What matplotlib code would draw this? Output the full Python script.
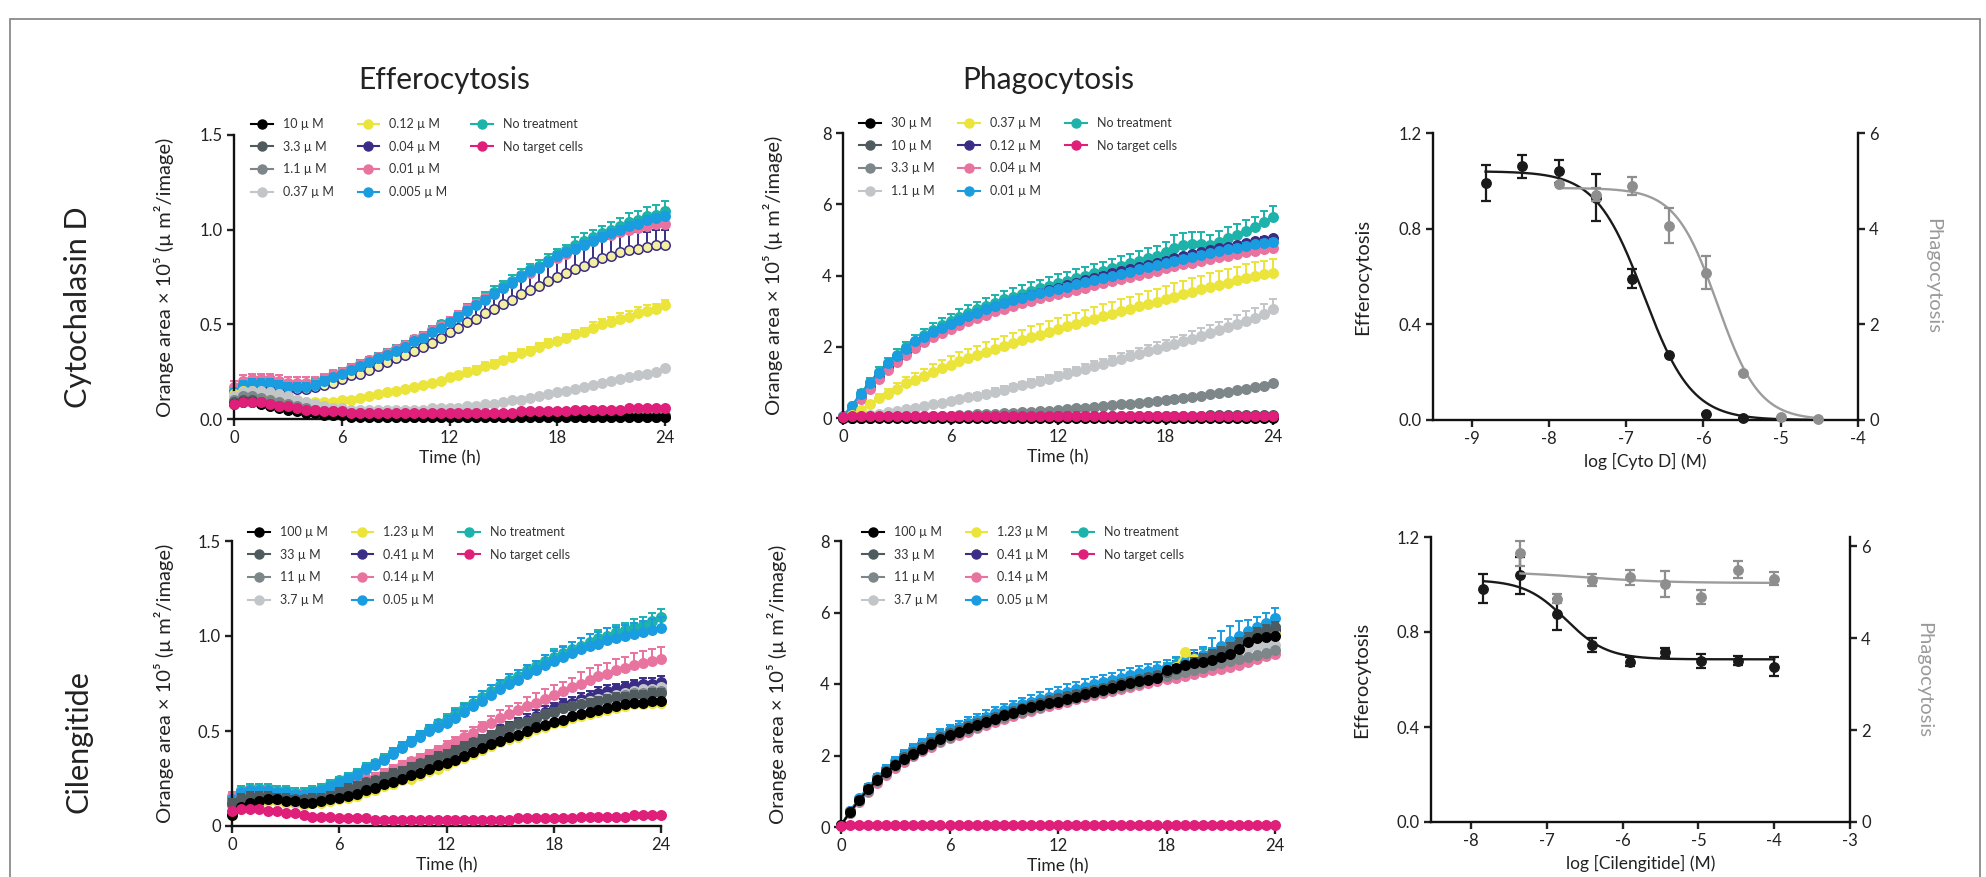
import numpy as np
import matplotlib.pyplot as plt
from matplotlib.lines import Line2D
from matplotlib.patches import Rectangle

plt.rcParams['font.family'] = ['Lato', 'DejaVu Sans']
plt.rcParams['axes.unicode_minus'] = False

W, H = 1986, 877
hours = np.arange(0, 24.5, 0.5)   # imaging every 30 min

# series colours, in legend order
series_colors = ['#000000', '#4f5b5f', '#7d8689', '#c3c6c8', '#ebe43a',
                 '#3a2d86', '#e8739f', '#1a9ce0', '#1db3ab', '#df1f79']
PALE = '#f3efa0'

# ---------------- Efferocytosis, Cytochalasin D ----------------
effcd_labels = ['10 µ M', '3.3 µ M', '1.1 µ M', '0.37 µ M', '0.12 µ M',
                '0.04 µ M', '0.01 µ M', '0.005 µ M', 'No treatment', 'No target cells']
effcd_10 = [0.08,0.09,0.09,0.08,0.07,0.06,0.05,0.04,0.03,0.03,0.02,0.02,
            0.02,0.01,0.01,0.01,0.01,0.01,0.01,0.01,0.01,0.01,0.01,0.01,
            0.01,0.01,0.01,0.01,0.01,0.01,0.01,0.01,0.01,0.01,0.01,0.01,
            0.01,0.01,0.01,0.01,0.01,0.01,0.01,0.01,0.01,0.01,0.01,0.01,
            0.01]
effcd_3p3 = [0.09,0.10,0.10,0.09,0.08,0.07,0.06,0.05,0.04,0.03,0.03,0.02,
             0.02,0.02,0.02,0.01,0.01,0.01,0.01,0.01,0.01,0.01,0.01,0.01,
             0.01,0.01,0.01,0.01,0.01,0.01,0.01,0.01,0.01,0.01,0.01,0.01,
             0.01,0.01,0.01,0.01,0.01,0.01,0.01,0.01,0.01,0.01,0.01,0.01,
             0.01]
effcd_1p1 = [0.10,0.12,0.12,0.11,0.10,0.09,0.08,0.07,0.06,0.05,0.04,0.04,
             0.03,0.03,0.03,0.03,0.02,0.02,0.02,0.02,0.02,0.02,0.02,0.02,
             0.02,0.02,0.02,0.02,0.02,0.02,0.02,0.02,0.02,0.02,0.02,0.02,
             0.02,0.02,0.02,0.02,0.02,0.02,0.02,0.02,0.02,0.02,0.02,0.02,
             0.02]
effcd_0p37 = [0.12,0.14,0.15,0.15,0.14,0.13,0.12,0.10,0.09,0.08,0.07,0.06,
              0.06,0.05,0.05,0.05,0.05,0.05,0.05,0.05,0.05,0.05,0.06,0.06,
              0.06,0.06,0.07,0.07,0.08,0.08,0.09,0.10,0.10,0.11,0.12,0.13,
              0.14,0.15,0.16,0.17,0.18,0.19,0.20,0.21,0.22,0.23,0.24,0.25,
              0.27]
effcd_0p12 = [0.13,0.15,0.15,0.14,0.13,0.12,0.11,0.10,0.09,0.09,0.09,0.09,
              0.10,0.10,0.11,0.12,0.13,0.14,0.15,0.16,0.17,0.18,0.19,0.20,
              0.22,0.23,0.25,0.26,0.28,0.29,0.31,0.33,0.35,0.36,0.38,0.40,
              0.41,0.43,0.45,0.46,0.48,0.50,0.51,0.53,0.54,0.56,0.57,0.58,
              0.60]
effcd_0p04 = [0.14,0.17,0.18,0.18,0.18,0.17,0.16,0.16,0.16,0.17,0.18,0.19,
              0.21,0.23,0.24,0.26,0.28,0.30,0.32,0.34,0.36,0.38,0.40,0.43,
              0.46,0.48,0.51,0.53,0.56,0.58,0.61,0.63,0.66,0.68,0.70,0.73,
              0.75,0.77,0.79,0.81,0.83,0.85,0.86,0.88,0.89,0.90,0.91,0.92,
              0.92]
effcd_0p01 = [0.17,0.20,0.21,0.21,0.21,0.20,0.19,0.19,0.19,0.19,0.21,0.23,
              0.25,0.27,0.29,0.31,0.33,0.35,0.37,0.39,0.42,0.44,0.47,0.49,
              0.52,0.55,0.58,0.61,0.64,0.66,0.69,0.72,0.75,0.77,0.80,0.83,
              0.85,0.87,0.90,0.92,0.94,0.96,0.97,0.99,1.00,1.01,1.02,1.03,
              1.03]
effcd_0p005 = [0.14,0.18,0.19,0.19,0.19,0.18,0.17,0.17,0.17,0.18,0.20,0.22,
               0.24,0.26,0.28,0.30,0.32,0.34,0.36,0.38,0.41,0.43,0.46,0.48,
               0.51,0.54,0.57,0.60,0.63,0.66,0.69,0.72,0.75,0.78,0.80,0.83,
               0.86,0.88,0.90,0.92,0.94,0.96,0.98,1.00,1.02,1.03,1.05,1.06,
               1.07]
effcd_notreat = [0.15,0.19,0.20,0.20,0.20,0.19,0.18,0.18,0.18,0.19,0.21,0.23,
                 0.25,0.27,0.29,0.31,0.33,0.35,0.37,0.39,0.42,0.44,0.47,0.50,
                 0.52,0.55,0.58,0.61,0.64,0.67,0.70,0.73,0.76,0.79,0.81,0.84,
                 0.87,0.89,0.92,0.94,0.96,0.98,1.00,1.02,1.04,1.05,1.07,1.08,
                 1.10]
effcd_notarget = [0.08,0.09,0.09,0.09,0.08,0.07,0.07,0.06,0.05,0.05,0.04,0.04,
                  0.04,0.03,0.03,0.03,0.03,0.03,0.03,0.03,0.03,0.03,0.03,0.03,
                  0.03,0.03,0.03,0.03,0.03,0.03,0.03,0.03,0.04,0.04,0.04,0.04,
                  0.04,0.04,0.05,0.05,0.05,0.05,0.05,0.05,0.06,0.06,0.06,0.06,
                  0.06]
# upper SEM
effcd_err_0p12 = [0.01,0.01,0.01,0.01,0.01,0.01,0.01,0.01,0.01,0.01,0.01,0.01,
                  0.01,0.01,0.01,0.01,0.01,0.01,0.01,0.01,0.01,0.01,0.01,0.01,
                  0.01,0.01,0.02,0.02,0.02,0.02,0.02,0.02,0.02,0.02,0.02,0.02,
                  0.02,0.02,0.02,0.02,0.03,0.03,0.03,0.03,0.03,0.03,0.03,0.03,
                  0.03]
effcd_err_0p04 = [0.03,0.03,0.03,0.03,0.03,0.03,0.03,0.03,0.03,0.03,0.03,0.03,
                  0.01,0.01,0.01,0.01,0.02,0.02,0.02,0.03,0.03,0.03,0.04,0.04,
                  0.05,0.05,0.06,0.06,0.07,0.07,0.08,0.08,0.08,0.09,0.09,0.09,
                  0.09,0.09,0.09,0.09,0.09,0.09,0.09,0.09,0.09,0.09,0.08,0.08,
                  0.08]
effcd_err_0p01 = [0.03,0.03,0.03,0.03,0.03,0.03,0.03,0.03,0.03,0.03,0.03,0.03,
                  0.01,0.01,0.01,0.01,0.01,0.01,0.01,0.01,0.01,0.01,0.01,0.01,
                  0.02,0.02,0.02,0.02,0.02,0.02,0.02,0.02,0.02,0.02,0.02,0.02,
                  0.02,0.02,0.02,0.02,0.02,0.02,0.02,0.02,0.02,0.02,0.02,0.02,
                  0.02]
effcd_err_0p005 = [0.02,0.02,0.02,0.02,0.02,0.02,0.02,0.02,0.02,0.02,0.02,0.02,
                   0.01,0.01,0.01,0.01,0.01,0.01,0.01,0.01,0.01,0.01,0.01,0.01,
                   0.02,0.02,0.02,0.02,0.02,0.02,0.02,0.02,0.02,0.02,0.02,0.02,
                   0.02,0.02,0.02,0.02,0.02,0.02,0.02,0.02,0.02,0.02,0.02,0.02,
                   0.02]
effcd_err_notreat = [0.02,0.02,0.02,0.02,0.02,0.02,0.02,0.02,0.02,0.02,0.02,0.02,
                     0.02,0.02,0.02,0.02,0.02,0.02,0.02,0.02,0.02,0.02,0.02,0.02,
                     0.02,0.02,0.03,0.03,0.03,0.03,0.03,0.03,0.03,0.03,0.03,0.03,
                     0.03,0.03,0.04,0.04,0.04,0.04,0.04,0.04,0.05,0.05,0.05,0.05,
                     0.05]

# ---------------- Phagocytosis, Cytochalasin D ----------------
phacd_labels = ['30 µ M', '10 µ M', '3.3 µ M', '1.1 µ M', '0.37 µ M',
                '0.12 µ M', '0.04 µ M', '0.01 µ M', 'No treatment', 'No target cells']
phacd_30 = [0.00,0.01,0.01,0.01,0.01,0.01,0.01,0.01,0.01,0.01,0.01,0.01,
            0.01,0.01,0.01,0.01,0.01,0.01,0.01,0.01,0.01,0.01,0.01,0.01,
            0.01,0.01,0.01,0.01,0.01,0.01,0.01,0.01,0.01,0.01,0.01,0.01,
            0.01,0.01,0.01,0.01,0.01,0.01,0.01,0.01,0.01,0.01,0.01,0.01,
            0.01]
phacd_10 = [0.00,0.01,0.01,0.01,0.02,0.02,0.02,0.02,0.02,0.02,0.03,0.03,
            0.03,0.03,0.03,0.03,0.03,0.04,0.04,0.04,0.04,0.04,0.04,0.04,
            0.05,0.05,0.05,0.05,0.05,0.05,0.06,0.06,0.06,0.06,0.06,0.06,
            0.07,0.07,0.07,0.07,0.07,0.08,0.08,0.08,0.08,0.08,0.09,0.09,
            0.09]
phacd_3p3 = [0.00,0.00,0.01,0.01,0.02,0.02,0.03,0.03,0.04,0.04,0.05,0.06,
             0.07,0.08,0.09,0.10,0.11,0.12,0.13,0.14,0.16,0.17,0.19,0.21,
             0.23,0.25,0.27,0.29,0.31,0.33,0.36,0.38,0.40,0.43,0.45,0.48,
             0.51,0.54,0.57,0.60,0.63,0.66,0.70,0.74,0.78,0.82,0.86,0.91,
             0.97]
phacd_1p1 = [0.00,0.02,0.05,0.08,0.12,0.16,0.20,0.24,0.28,0.33,0.38,0.43,
             0.48,0.53,0.58,0.63,0.68,0.74,0.80,0.86,0.92,0.98,1.04,1.10,
             1.17,1.24,1.31,1.38,1.45,1.52,1.59,1.66,1.73,1.80,1.87,1.94,
             2.01,2.08,2.15,2.23,2.31,2.39,2.47,2.55,2.64,2.73,2.82,2.92,
             3.05]
phacd_0p37 = [0.02,0.08,0.22,0.40,0.55,0.68,0.82,0.98,1.08,1.18,1.30,1.40,
              1.50,1.60,1.68,1.77,1.86,1.95,2.03,2.11,2.19,2.27,2.34,2.42,
              2.50,2.57,2.64,2.71,2.78,2.85,2.92,2.99,3.06,3.13,3.20,3.27,
              3.34,3.41,3.48,3.55,3.62,3.68,3.74,3.80,3.86,3.92,3.98,4.03,
              4.08]
phacd_0p12 = [0.03,0.25,0.55,0.88,1.15,1.42,1.65,1.86,2.04,2.20,2.35,2.48,
              2.60,2.72,2.83,2.93,3.02,3.11,3.20,3.28,3.36,3.44,3.51,3.58,
              3.65,3.72,3.79,3.86,3.93,4.00,4.06,4.12,4.18,4.24,4.30,4.36,
              4.42,4.48,4.54,4.60,4.66,4.71,4.76,4.81,4.86,4.91,4.96,5.01,
              5.05]
phacd_0p04 = [0.03,0.25,0.52,0.82,1.10,1.36,1.58,1.78,1.96,2.12,2.26,2.38,
              2.50,2.61,2.71,2.81,2.90,2.99,3.07,3.15,3.22,3.29,3.36,3.42,
              3.48,3.54,3.60,3.66,3.72,3.78,3.84,3.90,3.96,4.02,4.08,4.14,
              4.20,4.26,4.31,4.36,4.41,4.46,4.51,4.56,4.61,4.65,4.69,4.73,
              4.76]
phacd_0p01 = [0.05,0.35,0.68,0.98,1.25,1.55,1.75,1.95,2.15,2.28,2.42,2.53,
              2.64,2.76,2.86,2.96,3.05,3.14,3.22,3.30,3.37,3.44,3.51,3.57,
              3.63,3.69,3.75,3.81,3.87,3.93,3.99,4.05,4.11,4.17,4.23,4.29,
              4.35,4.41,4.47,4.53,4.58,4.63,4.68,4.73,4.78,4.83,4.88,4.92,
              4.95]
phacd_notreat = [0.05,0.35,0.70,1.02,1.30,1.55,1.78,1.98,2.15,2.32,2.47,2.60,
                 2.72,2.84,2.95,3.05,3.15,3.24,3.33,3.41,3.49,3.57,3.64,3.71,
                 3.78,3.85,3.92,3.99,4.06,4.13,4.20,4.27,4.34,4.41,4.48,4.56,
                 4.65,4.78,4.85,4.88,4.88,4.85,4.95,5.05,5.15,5.25,5.35,5.50,
                 5.65]
phacd_notarget = [0.04,0.05,0.05,0.05,0.05,0.05,0.05,0.05,0.05,0.05,0.05,0.05,
                  0.05,0.05,0.05,0.05,0.05,0.05,0.05,0.05,0.05,0.05,0.05,0.05,
                  0.05,0.05,0.05,0.05,0.05,0.05,0.05,0.05,0.05,0.05,0.05,0.05,
                  0.05,0.05,0.05,0.05,0.05,0.05,0.05,0.05,0.05,0.05,0.05,0.05,
                  0.05]
phacd_err_1p1 = [0.00,0.01,0.01,0.02,0.02,0.03,0.03,0.04,0.04,0.05,0.05,0.06,
                 0.06,0.07,0.07,0.08,0.08,0.09,0.09,0.10,0.10,0.11,0.11,0.12,
                 0.12,0.13,0.13,0.14,0.14,0.15,0.15,0.16,0.16,0.17,0.17,0.18,
                 0.18,0.19,0.19,0.20,0.21,0.22,0.23,0.24,0.25,0.26,0.27,0.28,
                 0.30]
phacd_err_0p37 = [0.01,0.03,0.06,0.09,0.12,0.14,0.16,0.18,0.19,0.20,0.21,0.22,
                  0.23,0.24,0.25,0.26,0.27,0.28,0.28,0.29,0.29,0.30,0.30,0.31,
                  0.31,0.32,0.32,0.33,0.33,0.34,0.34,0.35,0.35,0.35,0.36,0.36,
                  0.36,0.37,0.37,0.37,0.38,0.38,0.38,0.38,0.39,0.39,0.39,0.39,
                  0.39]
phacd_err_0p12 = [0.01,0.04,0.05,0.05,0.05,0.05,0.05,0.05,0.05,0.05,0.05,0.05,
                  0.05,0.05,0.05,0.05,0.05,0.05,0.05,0.05,0.05,0.05,0.05,0.05,
                  0.06,0.06,0.06,0.06,0.06,0.06,0.06,0.06,0.06,0.06,0.06,0.06,
                  0.06,0.06,0.06,0.06,0.06,0.06,0.06,0.06,0.06,0.06,0.06,0.06,
                  0.06]
phacd_err_0p04 = [0.01,0.04,0.06,0.06,0.06,0.06,0.06,0.06,0.06,0.06,0.06,0.06,
                  0.06,0.06,0.06,0.06,0.06,0.06,0.06,0.06,0.06,0.06,0.06,0.06,
                  0.06,0.06,0.06,0.06,0.06,0.06,0.06,0.06,0.06,0.06,0.06,0.06,
                  0.07,0.07,0.07,0.07,0.07,0.07,0.07,0.07,0.07,0.07,0.07,0.07,
                  0.07]
phacd_err_0p01 = [0.02,0.05,0.06,0.06,0.06,0.06,0.06,0.06,0.06,0.06,0.06,0.06,
                  0.06,0.06,0.06,0.06,0.06,0.06,0.06,0.06,0.06,0.06,0.06,0.06,
                  0.06,0.06,0.06,0.06,0.06,0.06,0.06,0.06,0.06,0.06,0.06,0.06,
                  0.07,0.07,0.07,0.07,0.07,0.07,0.07,0.07,0.07,0.07,0.07,0.07,
                  0.07]
phacd_err_notreat = [0.02,0.05,0.08,0.10,0.12,0.14,0.15,0.16,0.17,0.18,0.19,0.20,
                     0.20,0.21,0.21,0.22,0.22,0.22,0.23,0.23,0.23,0.24,0.24,0.24,
                     0.25,0.25,0.25,0.26,0.26,0.26,0.27,0.27,0.27,0.28,0.28,0.28,
                     0.29,0.35,0.35,0.35,0.33,0.30,0.30,0.30,0.30,0.30,0.30,0.30,
                     0.30]

# ---------------- Efferocytosis, Cilengitide ----------------
effcil_labels = ['100 µ M', '33 µ M', '11 µ M', '3.7 µ M', '1.23 µ M',
                 '0.41 µ M', '0.14 µ M', '0.05 µ M', 'No treatment', 'No target cells']
effcil_100 = [0.06,0.10,0.12,0.13,0.14,0.14,0.13,0.13,0.12,0.12,0.13,0.14,
              0.15,0.16,0.17,0.19,0.20,0.22,0.23,0.25,0.27,0.28,0.30,0.32,
              0.33,0.35,0.37,0.39,0.41,0.43,0.45,0.47,0.48,0.50,0.52,0.53,
              0.55,0.56,0.58,0.59,0.60,0.61,0.62,0.63,0.64,0.65,0.65,0.66,
              0.66]
effcil_33 = [0.12,0.15,0.16,0.16,0.16,0.15,0.15,0.14,0.14,0.15,0.15,0.16,
             0.18,0.20,0.21,0.23,0.24,0.26,0.28,0.29,0.31,0.33,0.35,0.37,
             0.38,0.40,0.42,0.44,0.46,0.48,0.50,0.52,0.54,0.55,0.57,0.59,
             0.60,0.62,0.63,0.64,0.65,0.66,0.67,0.68,0.68,0.69,0.69,0.70,
             0.70]
effcil_11 = [0.11,0.14,0.15,0.15,0.15,0.14,0.14,0.13,0.13,0.14,0.15,0.16,
             0.17,0.19,0.20,0.22,0.23,0.25,0.27,0.28,0.30,0.32,0.34,0.36,
             0.37,0.39,0.41,0.43,0.45,0.47,0.49,0.51,0.53,0.55,0.57,0.59,
             0.60,0.62,0.63,0.64,0.65,0.66,0.67,0.68,0.69,0.70,0.70,0.71,
             0.71]
effcil_3p7 = [0.12,0.15,0.16,0.16,0.15,0.14,0.13,0.12,0.12,0.13,0.14,0.15,
              0.16,0.18,0.19,0.21,0.22,0.24,0.26,0.28,0.29,0.31,0.33,0.35,
              0.37,0.39,0.41,0.43,0.45,0.47,0.49,0.51,0.53,0.55,0.57,0.59,
              0.60,0.62,0.63,0.65,0.66,0.67,0.68,0.69,0.70,0.71,0.72,0.72,
              0.73]
effcil_1p23 = [0.06,0.09,0.11,0.12,0.13,0.13,0.12,0.12,0.11,0.12,0.12,0.13,
               0.14,0.15,0.16,0.18,0.19,0.21,0.22,0.24,0.25,0.27,0.29,0.30,
               0.32,0.34,0.36,0.38,0.40,0.42,0.44,0.46,0.47,0.49,0.51,0.52,
               0.54,0.55,0.57,0.58,0.59,0.60,0.61,0.62,0.63,0.64,0.64,0.65,
               0.65]
effcil_0p41 = [0.14,0.17,0.18,0.18,0.18,0.17,0.16,0.16,0.16,0.16,0.17,0.18,
               0.19,0.20,0.21,0.23,0.24,0.26,0.28,0.29,0.31,0.33,0.35,0.37,
               0.38,0.40,0.42,0.44,0.46,0.48,0.50,0.52,0.54,0.56,0.58,0.60,
               0.62,0.64,0.65,0.67,0.68,0.70,0.71,0.72,0.73,0.74,0.75,0.75,
               0.76]
effcil_0p14 = [0.16,0.18,0.19,0.19,0.19,0.18,0.17,0.17,0.17,0.17,0.18,0.20,
               0.21,0.22,0.23,0.25,0.26,0.28,0.30,0.32,0.34,0.36,0.38,0.40,
               0.42,0.44,0.47,0.49,0.52,0.54,0.57,0.59,0.61,0.63,0.65,0.67,
               0.69,0.71,0.73,0.75,0.77,0.79,0.80,0.82,0.83,0.85,0.86,0.87,
               0.88]
effcil_0p05 = [0.14,0.18,0.19,0.19,0.19,0.18,0.18,0.17,0.17,0.18,0.19,0.21,
               0.23,0.25,0.27,0.30,0.32,0.35,0.38,0.41,0.44,0.47,0.50,0.52,
               0.54,0.57,0.60,0.63,0.66,0.69,0.72,0.75,0.77,0.80,0.82,0.85,
               0.87,0.89,0.91,0.93,0.95,0.96,0.98,0.99,1.00,1.01,1.02,1.03,
               1.04]
effcil_notreat = [0.15,0.19,0.20,0.20,0.20,0.19,0.19,0.18,0.18,0.19,0.20,0.22,
                  0.24,0.26,0.28,0.31,0.33,0.36,0.39,0.42,0.45,0.48,0.51,0.54,
                  0.56,0.59,0.62,0.65,0.68,0.71,0.74,0.77,0.79,0.82,0.84,0.87,
                  0.89,0.91,0.93,0.95,0.97,0.99,1.00,1.02,1.03,1.05,1.06,1.08,
                  1.10]
effcil_notarget = [0.08,0.09,0.09,0.09,0.08,0.08,0.07,0.07,0.06,0.05,0.05,0.05,
                   0.04,0.04,0.04,0.04,0.03,0.03,0.03,0.03,0.03,0.03,0.03,0.03,
                   0.03,0.03,0.03,0.03,0.03,0.03,0.03,0.03,0.04,0.04,0.04,0.04,
                   0.04,0.04,0.04,0.05,0.05,0.05,0.05,0.05,0.05,0.06,0.06,0.06,
                   0.06]
effcil_err_33 = [0.02,0.02,0.02,0.02,0.02,0.02,0.02,0.02,0.02,0.02,0.02,0.02,
                 0.02,0.02,0.02,0.02,0.02,0.02,0.02,0.02,0.02,0.02,0.02,0.02,
                 0.02,0.02,0.02,0.02,0.02,0.02,0.02,0.02,0.02,0.02,0.02,0.02,
                 0.02,0.02,0.02,0.02,0.02,0.02,0.02,0.02,0.02,0.02,0.02,0.02,
                 0.02]
effcil_err_0p41 = [0.02,0.02,0.02,0.02,0.02,0.02,0.02,0.02,0.02,0.02,0.02,0.02,
                   0.02,0.02,0.02,0.02,0.02,0.02,0.02,0.02,0.02,0.02,0.02,0.02,
                   0.02,0.02,0.02,0.02,0.02,0.02,0.03,0.03,0.03,0.03,0.03,0.03,
                   0.03,0.03,0.03,0.03,0.03,0.03,0.03,0.03,0.03,0.03,0.03,0.03,
                   0.03]
effcil_err_0p14 = [0.02,0.02,0.02,0.02,0.02,0.02,0.02,0.02,0.02,0.02,0.02,0.02,
                   0.02,0.02,0.02,0.02,0.02,0.02,0.02,0.02,0.02,0.02,0.02,0.02,
                   0.03,0.03,0.03,0.03,0.03,0.04,0.04,0.04,0.04,0.05,0.05,0.05,
                   0.05,0.05,0.05,0.06,0.06,0.06,0.06,0.06,0.06,0.06,0.06,0.06,
                   0.06]
effcil_err_0p05 = [0.01,0.01,0.01,0.01,0.01,0.01,0.01,0.01,0.01,0.01,0.01,0.01,
                   0.02,0.02,0.02,0.02,0.02,0.02,0.03,0.03,0.03,0.03,0.03,0.04,
                   0.04,0.04,0.04,0.05,0.05,0.05,0.05,0.05,0.05,0.05,0.05,0.05,
                   0.05,0.05,0.06,0.06,0.06,0.06,0.06,0.06,0.06,0.06,0.06,0.06,
                   0.06]
effcil_err_notreat = [0.02,0.02,0.02,0.02,0.02,0.02,0.02,0.02,0.02,0.02,0.02,0.02,
                      0.02,0.02,0.02,0.02,0.02,0.02,0.02,0.02,0.02,0.02,0.02,0.02,
                      0.03,0.03,0.03,0.03,0.03,0.03,0.03,0.03,0.03,0.03,0.03,0.03,
                      0.04,0.04,0.04,0.04,0.04,0.04,0.04,0.04,0.04,0.04,0.04,0.04,
                      0.04]

# ---------------- Phagocytosis, Cilengitide ----------------
phacil_labels = effcil_labels
phacil_100 = [0.05,0.42,0.75,1.05,1.31,1.53,1.73,1.90,2.05,2.19,2.32,2.45,
              2.57,2.67,2.76,2.85,2.94,3.03,3.12,3.20,3.29,3.35,3.41,3.46,
              3.51,3.58,3.65,3.71,3.78,3.84,3.90,3.96,4.03,4.08,4.12,4.18,
              4.39,4.46,4.52,4.58,4.62,4.68,4.75,4.85,4.98,5.18,5.30,5.32,
              5.33]
phacil_33 = [0.05,0.42,0.76,1.07,1.34,1.57,1.77,1.95,2.11,2.25,2.38,2.51,
             2.62,2.72,2.82,2.91,3.00,3.09,3.17,3.25,3.33,3.40,3.47,3.54,
             3.60,3.66,3.72,3.78,3.84,3.90,3.96,4.02,4.08,4.14,4.20,4.26,
             4.34,4.42,4.52,4.62,4.72,4.82,4.92,5.02,5.14,5.28,5.42,5.52,
             5.60]
phacil_11 = [0.05,0.40,0.73,1.02,1.28,1.50,1.70,1.87,2.02,2.16,2.29,2.41,
             2.52,2.62,2.72,2.81,2.90,2.99,3.07,3.15,3.23,3.30,3.37,3.44,
             3.50,3.56,3.62,3.68,3.74,3.80,3.86,3.92,3.98,4.04,4.10,4.16,
             4.22,4.28,4.34,4.40,4.46,4.52,4.58,4.64,4.70,4.76,4.82,4.88,
             4.95]
phacil_3p7 = [0.05,0.41,0.74,1.04,1.31,1.54,1.74,1.92,2.08,2.22,2.35,2.48,
              2.59,2.69,2.79,2.88,2.97,3.06,3.14,3.22,3.30,3.37,3.44,3.51,
              3.57,3.63,3.69,3.75,3.81,3.87,3.93,3.99,4.05,4.11,4.17,4.23,
              4.30,4.38,4.46,4.54,4.62,4.70,4.78,4.86,4.94,5.00,5.05,5.08,
              5.10]
phacil_1p23 = [0.05,0.42,0.76,1.06,1.33,1.55,1.75,1.92,2.07,2.21,2.34,2.46,
               2.58,2.68,2.78,2.87,2.96,3.05,3.13,3.21,3.29,3.36,3.42,3.48,
               3.54,3.60,3.66,3.72,3.78,3.84,3.90,3.96,4.02,4.08,4.14,4.22,
               4.35,4.48,4.90,4.70,4.66,4.70,4.80,5.00,5.00,5.15,5.25,5.35,
               5.40]
phacil_0p41 = [0.05,0.44,0.79,1.10,1.38,1.61,1.82,2.00,2.16,2.31,2.45,2.57,
               2.68,2.78,2.88,2.97,3.06,3.14,3.22,3.30,3.37,3.44,3.51,3.58,
               3.64,3.71,3.77,3.83,3.89,3.95,4.01,4.07,4.13,4.19,4.25,4.31,
               4.38,4.50,4.66,4.68,4.70,4.76,4.84,4.92,5.02,5.15,5.28,5.40,
               5.50]
phacil_0p14 = [0.05,0.38,0.70,0.98,1.24,1.46,1.66,1.83,1.98,2.12,2.25,2.37,
               2.48,2.58,2.67,2.76,2.85,2.94,3.02,3.10,3.18,3.25,3.32,3.39,
               3.45,3.51,3.57,3.63,3.69,3.75,3.81,3.87,3.93,3.98,4.03,4.08,
               4.13,4.18,4.23,4.28,4.33,4.38,4.43,4.48,4.54,4.62,4.70,4.78,
               4.85]
phacil_0p05 = [0.05,0.45,0.80,1.12,1.40,1.63,1.84,2.02,2.18,2.33,2.47,2.60,
               2.71,2.81,2.91,3.00,3.09,3.18,3.27,3.35,3.43,3.51,3.58,3.65,
               3.72,3.79,3.86,3.93,4.00,4.06,4.12,4.18,4.24,4.30,4.36,4.42,
               4.48,4.56,4.64,4.72,4.80,4.90,5.05,5.20,5.35,5.48,5.60,5.72,
               5.85]
phacil_notreat = [0.05,0.44,0.78,1.09,1.37,1.60,1.80,1.98,2.14,2.29,2.43,2.56,
                  2.67,2.77,2.87,2.96,3.05,3.14,3.22,3.30,3.38,3.46,3.53,3.60,
                  3.67,3.74,3.81,3.88,3.95,4.01,4.07,4.13,4.19,4.25,4.31,4.38,
                  4.46,4.56,4.70,4.72,4.74,4.80,4.88,4.98,5.10,5.25,5.40,5.50,
                  5.60]
phacil_notarget = [0.04,0.05,0.05,0.05,0.05,0.05,0.05,0.05,0.05,0.05,0.05,0.05,
                   0.05,0.05,0.05,0.05,0.05,0.05,0.05,0.05,0.05,0.05,0.05,0.05,
                   0.05,0.05,0.05,0.05,0.05,0.05,0.05,0.05,0.05,0.05,0.05,0.05,
                   0.05,0.05,0.05,0.05,0.05,0.05,0.05,0.05,0.05,0.05,0.05,0.05,
                   0.05]
phacil_err_33 = [0.01,0.05,0.06,0.07,0.07,0.08,0.08,0.08,0.08,0.08,0.08,0.08,
                 0.08,0.08,0.08,0.08,0.08,0.08,0.08,0.08,0.08,0.08,0.08,0.08,
                 0.08,0.08,0.08,0.08,0.08,0.08,0.08,0.08,0.08,0.08,0.08,0.08,
                 0.10,0.10,0.10,0.12,0.12,0.12,0.12,0.14,0.14,0.14,0.14,0.14,
                 0.14]
phacil_err_3p7 = [0.01,0.05,0.06,0.07,0.07,0.08,0.08,0.08,0.08,0.08,0.08,0.08,
                  0.08,0.08,0.08,0.08,0.08,0.08,0.08,0.08,0.08,0.08,0.08,0.08,
                  0.08,0.08,0.08,0.08,0.08,0.08,0.08,0.08,0.08,0.08,0.08,0.08,
                  0.10,0.10,0.10,0.10,0.10,0.10,0.10,0.10,0.10,0.10,0.10,0.10,
                  0.10]
phacil_err_0p41 = [0.01,0.06,0.08,0.09,0.10,0.10,0.10,0.10,0.10,0.10,0.10,0.10,
                   0.10,0.10,0.10,0.10,0.10,0.10,0.10,0.10,0.10,0.10,0.10,0.10,
                   0.10,0.10,0.10,0.10,0.10,0.10,0.10,0.10,0.10,0.10,0.10,0.10,
                   0.12,0.15,0.20,0.20,0.18,0.18,0.18,0.18,0.18,0.18,0.18,0.18,
                   0.18]
phacil_err_0p05 = [0.02,0.05,0.07,0.08,0.09,0.10,0.11,0.12,0.13,0.14,0.14,0.15,
                   0.15,0.16,0.16,0.17,0.17,0.18,0.18,0.18,0.19,0.19,0.19,0.20,
                   0.20,0.20,0.20,0.20,0.20,0.20,0.20,0.20,0.20,0.20,0.20,0.20,
                   0.20,0.20,0.21,0.22,0.24,0.40,0.42,0.42,0.42,0.30,0.28,0.28,
                   0.28]
phacil_err_notreat = [0.02,0.04,0.05,0.06,0.07,0.08,0.08,0.09,0.09,0.10,0.10,0.10,
                      0.10,0.10,0.10,0.10,0.10,0.10,0.10,0.10,0.10,0.10,0.10,0.10,
                      0.10,0.10,0.10,0.10,0.10,0.10,0.10,0.10,0.12,0.12,0.12,0.12,
                      0.14,0.18,0.22,0.24,0.24,0.22,0.20,0.20,0.20,0.20,0.20,0.20,
                      0.20]

# ---------------- dose-response (log M) ----------------
cytod_eff_logc = [-8.82, -8.35, -7.87, -7.39, -6.92, -6.44, -5.97, -5.49]
cytod_eff_mean = [0.99, 1.06, 1.04, 0.93, 0.59, 0.27, 0.025, 0.007]
cytod_eff_sem = [0.075, 0.049, 0.049, 0.10, 0.04, 0.0, 0.0, 0.0]
cytod_eff_fit = [1.04, 0.0, -6.77, 1.4]          # top, bottom, logIC50, hill
cytod_eff_fit_range = [-8.82, -4.52]
cytod_pha_logc = [-7.87, -7.39, -6.92, -6.44, -5.97, -5.49, -5.0, -4.52]
cytod_pha_mean = [4.93, 4.71, 4.89, 4.06, 3.08, 0.99, 0.06, 0.03]
cytod_pha_sem = [0.0, 0.13, 0.19, 0.37, 0.35, 0.0, 0.0, 0.0]
cytod_pha_fit = [4.85, 0.0, -5.82, 1.6]
cytod_pha_fit_range = [-7.87, -4.52]

cil_eff_logc = [-7.84, -7.35, -6.87, -6.40, -5.91, -5.44, -4.96, -4.48, -4.0]
cil_eff_mean = [0.983, 1.038, 0.874, 0.744, 0.675, 0.715, 0.678, 0.678, 0.654]
cil_eff_sem = [0.06, 0.076, 0.064, 0.03, 0.02, 0.019, 0.03, 0.019, 0.04]
cil_eff_fit = [1.02, 0.685, -6.75, 1.6]
cil_eff_fit_range = [-7.84, -4.0]
cil_pha_logc = [-7.35, -6.87, -6.40, -5.91, -5.44, -4.96, -4.48, -4.0]
cil_pha_mean = [5.85, 4.86, 5.27, 5.32, 5.18, 4.89, 5.49, 5.29]
cil_pha_sem = [0.27, 0.10, 0.13, 0.16, 0.29, 0.15, 0.18, 0.14]
cil_pha_fit = [5.45, 5.2, -6.5, 0.8]
cil_pha_fit_range = [-7.35, -4.0]


fig = plt.figure(figsize=(W / 100, H / 100), dpi=100)
fig.patches.append(Rectangle((10 / W, -0.05), 1970 / W, 1.05 - 19 / H, transform=fig.transFigure,
                             fill=False, ec='#8a8a8a', lw=1.3))


def px_axes(x0, x1, ytop, ybot):
    return fig.add_axes([x0 / W, 1 - ybot / H, (x1 - x0) / W, (ybot - ytop) / H])


def style(ax):
    for s in ax.spines.values():
        s.set_linewidth(1.7)
        s.set_color('#111111')
    ax.tick_params(direction='out', length=5, width=1.7, labelsize=12, colors='#222222', pad=3)


# back to front: no treatment, 0.04/0.41, then the rest; no-target cells on top
draw_order = [8, 5, 6, 7, 4, 3, 2, 1, 0, 9]


def time_panel(box, series, errs, labels, ymax, yticks, yticklabels, ylab_x, leg_xy, pale=None):
    ax = px_axes(*box)
    for n, k in enumerate(draw_order):
        y = np.array(series[k])
        c = series_colors[k]
        z = 2 + 0.1 * n
        if errs[k] is not None:
            top = y + np.array(errs[k])
            ax.vlines(hours, y, top, color=c, lw=1.4, zorder=z, clip_on=False)
            ax.plot(hours, top, ls='none', marker='_', ms=6, mew=1.4, color=c, zorder=z, clip_on=False)
        face = PALE if k == pale else c
        ax.plot(hours, y, '-', color=c, lw=1.5, marker='o', ms=6.8, mfc=face, mec=c,
                mew=1.1, zorder=z + 0.05, clip_on=False)
    ax.set_xlim(0, 24)
    ax.set_ylim(0, ymax)
    ax.set_xticks([0, 6, 12, 18, 24])
    ax.set_yticks(yticks)
    ax.set_yticklabels(yticklabels)
    ax.spines[['top', 'right']].set_visible(False)
    style(ax)
    ax.set_xlabel('Time (h)', fontsize=12.5, labelpad=3, color='#222222')
    ax.set_ylabel('Orange area × 10⁵ (µ m²/image)', fontsize=14.5, color='#222222')
    ax.yaxis.set_label_coords(ylab_x, 0.5)

    handles = [Line2D([], [], color=c, lw=1.5, marker='o', ms=6.5) for c in series_colors]
    handles.append(Line2D([], [], color='none'))
    ax.legend(handles, labels + [''], ncol=3, loc='upper left',
              bbox_to_anchor=(leg_xy[0] / W, 1 - leg_xy[1] / H), bbox_transform=fig.transFigure,
              frameon=False, fontsize=9, handlelength=1.75, handletextpad=0.8,
              columnspacing=1.9, labelspacing=0.85, borderpad=0, borderaxespad=0,
              labelcolor='#333333')
    return ax


def hill(x, top, bottom, logic50, slope):
    return bottom + (top - bottom) / (1 + 10 ** ((x - logic50) * slope))


def dose_panel(box, xlim, xticks, rmax, xlabel, eff, pha):
    ax = px_axes(*box)
    ax2 = ax.twinx()
    for a, (lx, ly, le, fit, frange), col, lc in [(ax, eff, '#1a1a1a', '#1a1a1a'),
                                                 (ax2, pha, '#8e8e8e', '#9c9c9c')]:
        xs = np.linspace(frange[0], frange[1], 300)
        a.plot(xs, hill(xs, *fit), color=lc, lw=1.7, zorder=2)
        a.errorbar(lx, ly, yerr=le, fmt='o', ms=6.8, color=col, ecolor=col,
                   elinewidth=1.6, capsize=3.8, capthick=1.6, zorder=3, clip_on=False)
    ax.set_xlim(*xlim)
    ax.set_xticks(xticks)
    ax.set_ylim(0, 1.2)
    ax.set_yticks([0, 0.4, 0.8, 1.2])
    ax.set_yticklabels(['0.0', '0.4', '0.8', '1.2'])
    ax2.set_ylim(0, rmax)
    ax2.set_yticks([0, 2, 4, 6])
    ax.spines[['top', 'right']].set_visible(False)
    ax2.spines[['top', 'left', 'bottom']].set_visible(False)
    style(ax)
    style(ax2)
    ax.set_xlabel(xlabel, fontsize=12.5, labelpad=4, color='#222222')
    ax.set_ylabel('Efferocytosis', fontsize=14.5, color='#222222')
    ax.yaxis.set_label_coords(-0.145, 0.5)
    ax2.set_ylabel('Phagocytosis', fontsize=14.5, color='#9a9a9a', rotation=270, va='bottom')
    ax2.yaxis.set_label_coords(1.155, 0.5)
    return ax


effcd_series = [effcd_10, effcd_3p3, effcd_1p1, effcd_0p37, effcd_0p12, effcd_0p04,
                effcd_0p01, effcd_0p005, effcd_notreat, effcd_notarget]
effcd_errs = [None, None, None, None, effcd_err_0p12, effcd_err_0p04,
              effcd_err_0p01, effcd_err_0p005, effcd_err_notreat, None]
time_panel((234, 665, 135, 419), effcd_series, effcd_errs, effcd_labels, 1.5,
           [0, 0.5, 1.0, 1.5], ['0.0', '0.5', '1.0', '1.5'], -0.14, (251, 118), pale=5)

phacd_series = [phacd_30, phacd_10, phacd_3p3, phacd_1p1, phacd_0p37, phacd_0p12,
                phacd_0p04, phacd_0p01, phacd_notreat, phacd_notarget]
phacd_errs = [None, None, None, phacd_err_1p1, phacd_err_0p37, phacd_err_0p12,
              phacd_err_0p04, phacd_err_0p01, phacd_err_notreat, None]
time_panel((843, 1273, 133, 418), phacd_series, phacd_errs, phacd_labels, 8,
           [0, 2, 4, 6, 8], ['0', '2', '4', '6', '8'], -0.14, (859, 117))

effcil_series = [effcil_100, effcil_33, effcil_11, effcil_3p7, effcil_1p23, effcil_0p41,
                 effcil_0p14, effcil_0p05, effcil_notreat, effcil_notarget]
effcil_errs = [None, effcil_err_33, None, None, None, effcil_err_0p41,
               effcil_err_0p14, effcil_err_0p05, effcil_err_notreat, None]
time_panel((232, 661, 541, 826), effcil_series, effcil_errs, effcil_labels, 1.5,
           [0, 0.5, 1.0, 1.5], ['0', '0.5', '1.0', '1.5'], -0.135, (248, 526))

phacil_series = [phacil_100, phacil_33, phacil_11, phacil_3p7, phacil_1p23, phacil_0p41,
                 phacil_0p14, phacil_0p05, phacil_notreat, phacil_notarget]
phacil_errs = [None, phacil_err_33, None, phacil_err_3p7, None, phacil_err_0p41,
               None, phacil_err_0p05, phacil_err_notreat, None]
time_panel((841, 1275, 541, 827), phacil_series, phacil_errs, phacil_labels, 8,
           [0, 2, 4, 6, 8], ['0', '2', '4', '6', '8'], -0.125, (862, 526))

dose_panel((1433, 1858, 133, 420), (-9.5, -4), [-9, -8, -7, -6, -5, -4], 6, 'log [Cyto D] (M)',
           (cytod_eff_logc, cytod_eff_mean, cytod_eff_sem, cytod_eff_fit, cytod_eff_fit_range),
           (cytod_pha_logc, cytod_pha_mean, cytod_pha_sem, cytod_pha_fit, cytod_pha_fit_range))
dose_panel((1431, 1850, 537, 822), (-8.53, -3), [-8, -7, -6, -5, -4, -3], 6.2, 'log [Cilengitide] (M)',
           (cil_eff_logc, cil_eff_mean, cil_eff_sem, cil_eff_fit, cil_eff_fit_range),
           (cil_pha_logc, cil_pha_mean, cil_pha_sem, cil_pha_fit, cil_pha_fit_range))

# column and row headings
fig.text(444 / W, 1 - 80 / H, 'Efferocytosis', fontsize=21.5, ha='center', va='center', color='#222222')
fig.text(1048 / W, 1 - 80 / H, 'Phagocytosis', fontsize=21.5, ha='center', va='center', color='#222222')
fig.text(78 / W, 1 - 307 / H, 'Cytochalasin D', fontsize=22, rotation=90, ha='center', va='center',
         color='#222222')
fig.text(78 / W, 1 - 742 / H, 'Cilengitide', fontsize=22, rotation=90, ha='center', va='center',
         color='#222222')

fig.savefig('out.png', dpi=100)
